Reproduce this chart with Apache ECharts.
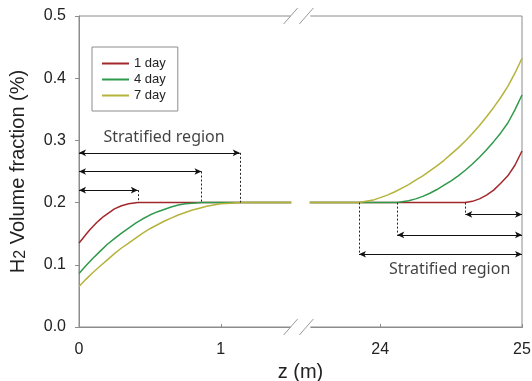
<!DOCTYPE html>
<html>
<head>
<meta charset="utf-8">
<script src="https://cdn.jsdelivr.net/npm/echarts@6/dist/echarts.min.js"></script>
<style>
  html, body { margin: 0; padding: 0; background: #fff; }
  #chart { width: 532px; height: 381px; }
</style>
</head>
<body>
<div id="chart"></div>
<script>
// Series names
const dayNames = ['1 day', '4 day', '7 day'];

// H2 volume fraction (%) near the inlet, z in metres
const inlet1 = [[0, 0.135], [0.025, 0.142], [0.05, 0.149], [0.075, 0.156], [0.1, 0.162], [0.125, 0.168], [0.15, 0.173], [0.175, 0.178], [0.2, 0.182], [0.25, 0.190], [0.3, 0.195], [0.35, 0.198], [0.415, 0.200], [1.0, 0.200], [1.5, 0.200]];
const inlet4 = [[0, 0.086], [0.05, 0.099], [0.1, 0.111], [0.15, 0.122], [0.2, 0.133], [0.25, 0.142], [0.3, 0.151], [0.35, 0.159], [0.4, 0.167], [0.45, 0.174], [0.5, 0.180], [0.55, 0.185], [0.6, 0.189], [0.65, 0.193], [0.7, 0.196], [0.75, 0.198], [0.8, 0.199], [0.864, 0.200], [1.2, 0.200], [1.5, 0.200]];
const inlet7 = [[0, 0.065], [0.05, 0.077], [0.1, 0.088], [0.15, 0.098], [0.2, 0.108], [0.25, 0.118], [0.3, 0.127], [0.35, 0.135], [0.4, 0.143], [0.45, 0.151], [0.5, 0.158], [0.55, 0.164], [0.6, 0.170], [0.65, 0.175], [0.7, 0.180], [0.75, 0.184], [0.8, 0.188], [0.85, 0.191], [0.9, 0.194], [0.95, 0.196], [1.0, 0.198], [1.07, 0.199], [1.134, 0.200], [1.5, 0.200]];

// H2 volume fraction (%) near the far end, z in metres
const end1 = [[23.5, 0.200], [24.0, 0.200], [24.6, 0.200], [24.65, 0.202], [24.7, 0.206], [24.75, 0.212], [24.8, 0.220], [24.85, 0.231], [24.9, 0.243], [24.95, 0.260], [25.0, 0.283]];
const end4 = [[23.5, 0.200], [24.12, 0.200], [24.2, 0.203], [24.25, 0.206], [24.3, 0.210], [24.35, 0.215], [24.4, 0.221], [24.45, 0.228], [24.5, 0.235], [24.55, 0.243], [24.6, 0.252], [24.65, 0.262], [24.7, 0.273], [24.75, 0.285], [24.8, 0.298], [24.85, 0.312], [24.9, 0.328], [24.95, 0.349], [25.0, 0.373]];
const end7 = [[23.5, 0.200], [23.85, 0.200], [23.95, 0.204], [24.0, 0.208], [24.05, 0.212], [24.1, 0.217], [24.15, 0.223], [24.2, 0.229], [24.25, 0.236], [24.3, 0.243], [24.35, 0.251], [24.4, 0.259], [24.45, 0.268], [24.5, 0.278], [24.55, 0.288], [24.6, 0.299], [24.65, 0.311], [24.7, 0.324], [24.75, 0.338], [24.8, 0.353], [24.85, 0.369], [24.9, 0.387], [24.95, 0.408], [25.0, 0.432]];

// Axis break on z
const breakStart = 1.5;
const breakEnd = 23.5;

// Tick values
const zTicks = [0, 1, 24, 25];
const yTicks = [0, 0.1, 0.2, 0.3, 0.4, 0.5];

// Stratified region: where each profile reaches / leaves 0.2 %, and arrow heights
const inletRegionEnd = [0.415, 0.864, 1.134];
const inletArrowY = [0.22, 0.25, 0.28];
const endRegionStart = [24.6, 24.12, 23.85];
const endArrowY = [0.181, 0.148, 0.117];
const regionLabelText = 'Stratified region';
const inletLabelAt = [0.6, 0.304];
const endLabelAt = [24.49, 0.093];

const colors = ['#a3282c', '#2f9a4b', '#b5b33c'];
const axisGray = '#8c8c8c';
const sansFont = 'Liberation Sans, Arial, sans-serif';

const chart = echarts.init(document.getElementById('chart'), null, { renderer: 'canvas' });

const inletSets = [inlet1, inlet4, inlet7];
const endSets = [end1, end4, end7];
const gapPoint = [(breakStart + breakEnd) / 2, '-'];

const lineSeries = dayNames.map((name, i) => ({
  name: name,
  type: 'line',
  data: inletSets[i].concat([gapPoint], endSets[i]),
  smooth: false,
  symbol: 'none',
  connectNulls: false,
  color: colors[i],
  lineStyle: { color: colors[i], width: 1.5, join: 'round' },
  itemStyle: { color: colors[i] },
  z: 3
}));

const arrowLines = [];
const dashLines = [];
for (let i = 0; i < 3; i++) {
  arrowLines.push([{ coord: [0, inletArrowY[i]] }, { coord: [inletRegionEnd[i], inletArrowY[i]] }]);
  dashLines.push([{ coord: [inletRegionEnd[i], inletArrowY[i]] }, { coord: [inletRegionEnd[i], 0.2] }]);
  arrowLines.push([{ coord: [endRegionStart[i], endArrowY[i]] }, { coord: [25, endArrowY[i]] }]);
  dashLines.push([{ coord: [endRegionStart[i], 0.2] }, { coord: [endRegionStart[i], endArrowY[i]] }]);
}

const annotationSeries = [
  {
    type: 'line', data: [], silent: true, z: 4,
    markLine: {
      silent: true, animation: false,
      symbol: ['arrow', 'arrow'], symbolSize: [5, 7],
      label: { show: false },
      lineStyle: { color: '#111', width: 1, type: 'solid' },
      emphasis: { disabled: true },
      data: arrowLines
    }
  },
  {
    type: 'line', data: [], silent: true, z: 4,
    markLine: {
      silent: true, animation: false,
      symbol: ['none', 'none'],
      label: { show: false },
      lineStyle: { color: '#222', width: 1, type: [2, 2] },
      emphasis: { disabled: true },
      data: dashLines
    }
  },
  {
    type: 'scatter', silent: true, symbolSize: 0, z: 5,
    data: [inletLabelAt, endLabelAt],
    label: {
      show: true, position: 'inside',
      formatter: regionLabelText,
      fontFamily: 'Noto Sans, Open Sans, sans-serif', fontSize: 16, color: '#111'
    }
  }
];

chart.setOption({
  animation: false,
  backgroundColor: '#fff',
  grid: {
    left: 79, right: 10, top: 16, bottom: 54,
    outerBoundsMode: 'none', containLabel: false,
    show: true, borderColor: axisGray, borderWidth: 1, backgroundColor: 'transparent'
  },
  legend: {
    data: dayNames,
    orient: 'vertical', left: 92, top: 47,
    padding: [10, 12, 9, 10],
    itemWidth: 27, itemHeight: 2, itemGap: 3,
    icon: 'rect',
    borderColor: axisGray, borderWidth: 1, borderRadius: 0,
    textStyle: { fontFamily: sansFont, fontSize: 13, color: '#222', lineHeight: 12 },
    selectedMode: false
  },
  xAxis: {
    type: 'value', min: 0, max: 25,
    breaks: [{ start: breakStart, end: breakEnd, gap: '4%' }],
    breakArea: {
      show: true, expandOnClick: false,
      zigzagAmplitude: 0,
      itemStyle: { color: '#fff', borderColor: '#fff', borderWidth: 0, opacity: 1 }
    },
    name: 'z (m)', nameLocation: 'middle', nameGap: 32,
    nameTextStyle: { fontFamily: sansFont, fontSize: 20, color: '#222' },
    axisLine: { show: true, lineStyle: { color: axisGray, width: 1 } },
    axisTick: { show: true, inside: true, length: 3, customValues: zTicks, lineStyle: { color: axisGray } },
    axisLabel: { customValues: zTicks, margin: 15, fontFamily: sansFont, fontSize: 16, color: '#222' },
    splitLine: { show: false }
  },
  yAxis: {
    type: 'value', min: 0, max: 0.5, interval: 0.1,
    name: '{t|H}{s|2}{t| Volume fraction (%)}',
    nameLocation: 'middle', nameGap: 49, nameRotate: 90,
    nameTextStyle: {
      rich: {
        t: { fontFamily: sansFont, fontSize: 20, color: '#222', lineHeight: 24 },
        s: { fontFamily: sansFont, fontSize: 16, color: '#222', padding: [6, 0, 0, 0] }
      }
    },
    axisLine: { show: true, lineStyle: { color: axisGray, width: 1 } },
    axisTick: { show: true, inside: false, length: 4, lineStyle: { color: axisGray } },
    axisLabel: {
      customValues: yTicks, margin: 13,
      fontFamily: sansFont, fontSize: 16, color: '#222',
      formatter: v => v.toFixed(1)
    },
    splitLine: { show: false }
  },
  series: lineSeries.concat(annotationSeries)
});

// Break marks ("//") on the top and bottom frame lines
const xa = chart.convertToPixel({ xAxisIndex: 0 }, breakStart);
const xb = chart.convertToPixel({ xAxisIndex: 0 }, breakEnd);
const yTop = chart.convertToPixel({ yAxisIndex: 0 }, 0.5);
const yBot = chart.convertToPixel({ yAxisIndex: 0 }, 0);
const marks = [];
[yTop, yBot].forEach(y => {
  marks.push({ type: 'rect', shape: { x: xa - 1, y: y - 2, width: xb - xa + 2, height: 4 }, style: { fill: '#fff' }, z: 100 });
  [xa - 1, xb - 3].forEach(x => {
    marks.push({
      type: 'line',
      shape: { x1: x - 7, y1: y + 8, x2: x + 7, y2: y - 8 },
      style: { stroke: '#999', lineWidth: 1 },
      z: 101
    });
  });
});
chart.setOption({ graphic: marks });
</script>
</body>
</html>
